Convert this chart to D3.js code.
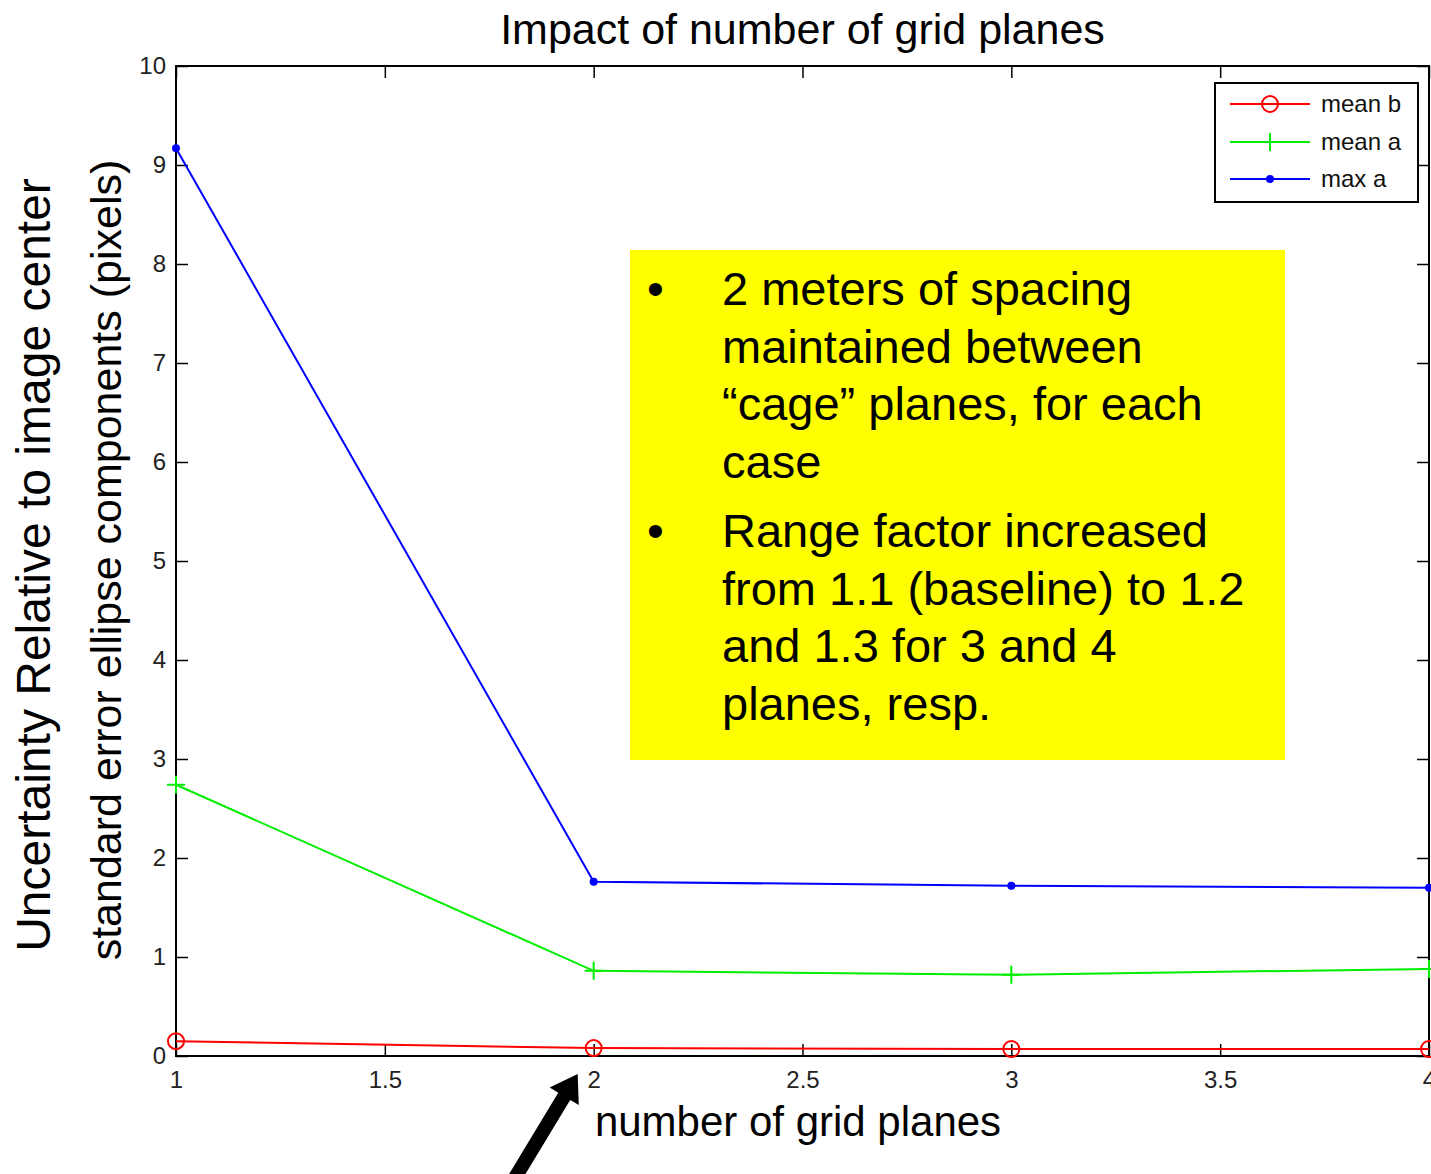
<!DOCTYPE html>
<html>
<head>
<meta charset="utf-8">
<script src="https://cdn.jsdelivr.net/npm/d3@7"></script>
<style>
  html, body { margin: 0; padding: 0; background: #fff; }
  svg { display: block; }
  text { font-family: "Liberation Sans", Arial, Helvetica, sans-serif; }
</style>
</head>
<body>
<svg id="chart" width="1431" height="1174"></svg>
<script>
// ---- data ----
const planes = [1, 2, 3, 4];
const meanB = [0.15, 0.08, 0.07, 0.07];
const meanA = [2.74, 0.86, 0.82, 0.88];
const maxA  = [9.17, 1.76, 1.72, 1.70];
const seriesNames = ["mean b", "mean a", "max a"];
const xTicks = [1, 1.5, 2, 2.5, 3, 3.5, 4];
const yTicks = [0, 1, 2, 3, 4, 5, 6, 7, 8, 9, 10];
const titleText = "Impact of number of grid planes";
const xLabelText = "number of grid planes";
const yLabelText = "standard error ellipse components (pixels)";
const outerLabelText = "Uncertainty Relative to image center";
const noteBullets = [
  ["2 meters of spacing", "maintained between", "\u201Ccage\u201D planes, for each", "case"],
  ["Range factor increased", "from 1.1 (baseline) to 1.2", "and 1.3 for 3 and 4", "planes, resp."]
];

const svg = d3.select("#chart");
const L = 176, R = 1429, T = 66, B = 1056;
const x = d3.scaleLinear().domain([1, 4]).range([L, R]);
const y = d3.scaleLinear().domain([0, 10]).range([B, T]);

// plot box
svg.append("rect").attr("x", L).attr("y", T).attr("width", R - L).attr("height", B - T)
  .attr("fill", "#fff").attr("stroke", "#000").attr("stroke-width", 2);

const tickLen = 12;
const axisStyle = g => {
  g.select(".domain").remove();
  g.selectAll(".tick line").attr("stroke", "#000").attr("stroke-width", 1.5);
  g.selectAll(".tick text").attr("fill", "#222").style("font-size", "24px")
    .style("font-family", "'Liberation Sans', Arial, sans-serif");
};
// bottom axis (inward ticks)
svg.append("g").attr("transform", `translate(0,${B})`)
  .call(d3.axisBottom(x).tickValues(xTicks).tickFormat(d3.format("~g")).tickSize(-tickLen).tickPadding(15))
  .call(axisStyle);
// top ticks
svg.append("g").attr("transform", `translate(0,${T})`)
  .call(d3.axisTop(x).tickValues(xTicks).tickFormat("").tickSize(-tickLen))
  .call(axisStyle);
// left axis
svg.append("g").attr("transform", `translate(${L},0)`)
  .call(d3.axisLeft(y).tickValues(yTicks).tickFormat(d3.format("~g")).tickSize(-tickLen).tickPadding(10))
  .call(axisStyle);
// right ticks
svg.append("g").attr("transform", `translate(${R},0)`)
  .call(d3.axisRight(y).tickValues(yTicks).tickFormat("").tickSize(-tickLen))
  .call(axisStyle);

// series
const series = [
  { name: seriesNames[0], values: meanB, color: "#ff0000", marker: "circle" },
  { name: seriesNames[1], values: meanA, color: "#00ee00", marker: "plus" },
  { name: seriesNames[2], values: maxA,  color: "#0000ff", marker: "dot" }
];
const line = d3.line().x(d => x(d[0])).y(d => y(d[1]));

function drawMarker(g, type, cx, cy, color) {
  if (type === "circle") {
    g.append("circle").attr("cx", cx).attr("cy", cy).attr("r", 8)
      .attr("fill", "none").attr("stroke", color).attr("stroke-width", 2);
  } else if (type === "plus") {
    g.append("path").attr("d", `M${cx - 9},${cy}H${cx + 9}M${cx},${cy - 9}V${cy + 9}`)
      .attr("stroke", color).attr("stroke-width", 2);
  } else {
    g.append("circle").attr("cx", cx).attr("cy", cy).attr("r", 4).attr("fill", color);
  }
}

series.forEach(s => {
  const pts = planes.map((p, i) => [p, s.values[i]]);
  svg.append("path").attr("d", line(pts)).attr("fill", "none")
    .attr("stroke", s.color).attr("stroke-width", 2);
  const g = svg.append("g");
  pts.forEach(p => drawMarker(g, s.marker, x(p[0]), y(p[1]), s.color));
});

// legend
const lg = svg.append("g");
lg.append("rect").attr("x", 1215).attr("y", 83).attr("width", 203).attr("height", 119)
  .attr("fill", "#fff").attr("stroke", "#000").attr("stroke-width", 2);
const legY = [104, 142, 179];
series.forEach((s, i) => {
  lg.append("line").attr("x1", 1230).attr("x2", 1310).attr("y1", legY[i]).attr("y2", legY[i])
    .attr("stroke", s.color).attr("stroke-width", 2);
  drawMarker(lg, s.marker, 1270, legY[i], s.color);
  lg.append("text").attr("x", 1321).attr("y", legY[i] + 8).text(s.name)
    .style("font-size", "24px").attr("fill", "#111");
});

// title and labels
svg.append("text").attr("x", (L + R) / 2).attr("y", 44).attr("text-anchor", "middle")
  .style("font-size", "43px").attr("fill", "#000").text(titleText);
svg.append("text").attr("x", 798).attr("y", 1136).attr("text-anchor", "middle")
  .style("font-size", "42px").attr("fill", "#000").text(xLabelText);
svg.append("text").attr("transform", "translate(121,560) rotate(-90)").attr("text-anchor", "middle")
  .style("font-size", "43px").attr("fill", "#000").text(yLabelText);
svg.append("text").attr("transform", "translate(50,565) rotate(-90)").attr("text-anchor", "middle")
  .style("font-size", "48px").attr("fill", "#000").text(outerLabelText);

// yellow note box
svg.append("rect").attr("x", 630).attr("y", 250).attr("width", 655).attr("height", 510)
  .attr("fill", "#ffff00");
let baseY = 305;
noteBullets.forEach((para, pi) => {
  svg.append("text").attr("x", 647).attr("y", baseY).style("font-size", "48px")
    .attr("fill", "#000").text("\u2022");
  para.forEach((ln, li) => {
    svg.append("text").attr("x", 722).attr("y", baseY + li * 57.5)
      .style("font-size", "47px").attr("fill", "#000").text(ln);
  });
  baseY += para.length * 57.5 + 12;
});

// arrow annotation pointing at x = 2
const tip = [x(2) - 16, 1074];
const tail = [tip[0] - 64, 1180];
const dx = tip[0] - tail[0], dy = tip[1] - tail[1];
const len = Math.hypot(dx, dy), ux = dx / len, uy = dy / len, nx = -uy, ny = ux;
const headL = 26, headW = 17, shaftW = 7;
const bx = tip[0] - headL * ux, by = tip[1] - headL * uy;
const arrowPath = [
  [tail[0] + shaftW * nx, tail[1] + shaftW * ny],
  [bx + shaftW * nx, by + shaftW * ny],
  [bx + headW * nx, by + headW * ny],
  tip,
  [bx - headW * nx, by - headW * ny],
  [bx - shaftW * nx, by - shaftW * ny],
  [tail[0] - shaftW * nx, tail[1] - shaftW * ny]
];
svg.append("path").attr("d", "M" + arrowPath.map(p => p.join(",")).join("L") + "Z").attr("fill", "#000");
</script>
</body>
</html>
